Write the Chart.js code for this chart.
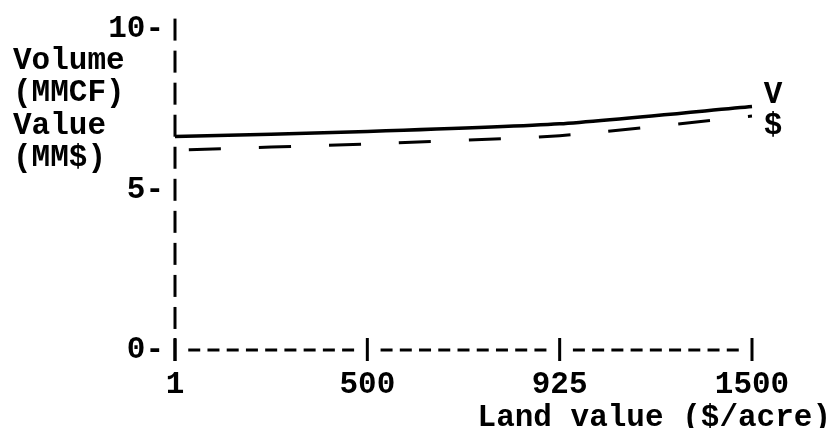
<!DOCTYPE html>
<html>
<head>
<meta charset="utf-8">
<script src="https://cdn.jsdelivr.net/npm/chart.js@4.4.1/dist/chart.umd.min.js"></script>
<style>
  html, body { margin: 0; padding: 0; background: #fff; }
  canvas { display: block; }
</style>
</head>
<body>
<canvas id="c" width="835" height="428"></canvas>
<script>
// Land value categories ($/acre) and the two series (millions)
const landValues = ['1', '500', '925', '1500'];
const volumeMMCF = [6.66, 6.82, 7.06, 7.60];
const valueMMD = [6.24, 6.43, 6.69, 7.30];
const yTickValues = [0, 5, 10];
const yTitleLines = ['Volume', '(MMCF)', 'Value', '(MM$)'];
const xTitle = 'Land value ($/acre)';
const seriesTags = ['V', '$'];

const FONT_FAMILY = '"Liberation Mono", "DejaVu Sans Mono", monospace';
const FONT_SIZE = 31;
const FONT = 'bold ' + FONT_SIZE + 'px ' + FONT_FAMILY;
const INK = '#000';

// Typewriter-style axes: "|" marks on the y axis, "-" runs on the x axis,
// plus the stacked y title, the x title and the series tags.
const typewriterAxes = {
  id: 'typewriterAxes',
  beforeDatasetsDraw(chart) {
    const { ctx, chartArea, scales } = chart;
    const xs = scales.x, ys = scales.y;
    const cell = FONT_SIZE * 0.6;
    ctx.save();
    ctx.strokeStyle = INK;
    ctx.lineWidth = 3;
    ctx.lineCap = 'butt';

    // vertical bars, one per typed row (one row per unit)
    for (let k = ys.min; k <= ys.max; k++) {
      const y = ys.getPixelForValue(k);
      ctx.beginPath();
      ctx.moveTo(chartArea.left, y - 11);
      ctx.lineTo(chartArea.left, y + 11);
      ctx.stroke();
    }

    // x axis: bars at each category, dashes between them
    const bottom = ys.getPixelForValue(0);
    for (let i = 0; i < landValues.length; i++) {
      const x = xs.getPixelForValue(i);
      ctx.beginPath();
      ctx.moveTo(x, bottom - 12);
      ctx.lineTo(x, bottom + 11);
      ctx.stroke();
      if (i < landValues.length - 1) {
        const x1 = xs.getPixelForValue(i + 1);
        const n = Math.round((x1 - x) / cell) - 1;
        const step = (x1 - x) / (n + 1);
        for (let j = 1; j <= n; j++) {
          const cx = x + step * j;
          ctx.beginPath();
          ctx.moveTo(cx - 6, bottom);
          ctx.lineTo(cx + 6, bottom);
          ctx.stroke();
        }
      }
    }

    ctx.fillStyle = INK;
    ctx.font = FONT;
    ctx.textBaseline = 'middle';

    // y title, typed on the rows below the top tick
    ctx.textAlign = 'left';
    yTitleLines.forEach((line, i) => {
      ctx.fillText(line, 13, ys.getPixelForValue(ys.max - 1 - i));
    });

    // x title, right-justified under the last label
    ctx.textAlign = 'right';
    ctx.fillText(xTitle, 831, chart.height - 10);
    ctx.restore();
  },
  afterDatasetsDraw(chart) {
    const { ctx } = chart;
    ctx.save();
    ctx.fillStyle = INK;
    ctx.font = FONT;
    ctx.textAlign = 'center';
    ctx.textBaseline = 'middle';
    const shifts = [-11, 10];
    chart.data.datasets.forEach((ds, i) => {
      const pts = chart.getDatasetMeta(i).data;
      const last = pts[pts.length - 1];
      ctx.fillText(seriesTags[i], last.x + 21, last.y + shifts[i]);
    });
    ctx.restore();
  }
};

new Chart(document.getElementById('c'), {
  type: 'line',
  data: {
    labels: landValues,
    datasets: [
      {
        label: 'Volume (MMCF)',
        data: volumeMMCF,
        borderColor: INK,
        borderWidth: 3.5,
        pointRadius: 0,
        tension: 0.2,
        fill: false
      },
      {
        label: 'Value (MM$)',
        data: valueMMD,
        borderColor: INK,
        borderWidth: 3,
        borderDash: [32, 38],
        borderDashOffset: -14,
        pointRadius: 0,
        tension: 0.2,
        fill: false
      }
    ]
  },
  options: {
    responsive: false,
    animation: false,
    devicePixelRatio: 1,
    layout: { padding: { left: 0, right: 83, top: 24, bottom: 0 } },
    plugins: {
      legend: { display: false },
      tooltip: { enabled: false }
    },
    scales: {
      x: {
        type: 'category',
        offset: false,
        grid: { display: false, drawTicks: false },
        border: { display: false },
        ticks: {
          color: INK,
          font: { family: FONT_FAMILY, size: FONT_SIZE, weight: 'bold' },
          padding: 17,
          maxRotation: 0,
          autoSkip: false
        },
        afterFit(scale) { scale.height = 78; }
      },
      y: {
        min: 0,
        max: 10,
        grid: { display: false, drawTicks: false },
        border: { display: false },
        afterBuildTicks(scale) {
          scale.ticks = yTickValues.map(v => ({ value: v }));
        },
        ticks: {
          color: INK,
          font: { family: FONT_FAMILY, size: FONT_SIZE, weight: 'bold' },
          padding: 11,
          callback: v => v + '-'
        },
        afterFit(scale) { scale.width = 175; }
      }
    }
  },
  plugins: [typewriterAxes]
});
</script>
</body>
</html>
